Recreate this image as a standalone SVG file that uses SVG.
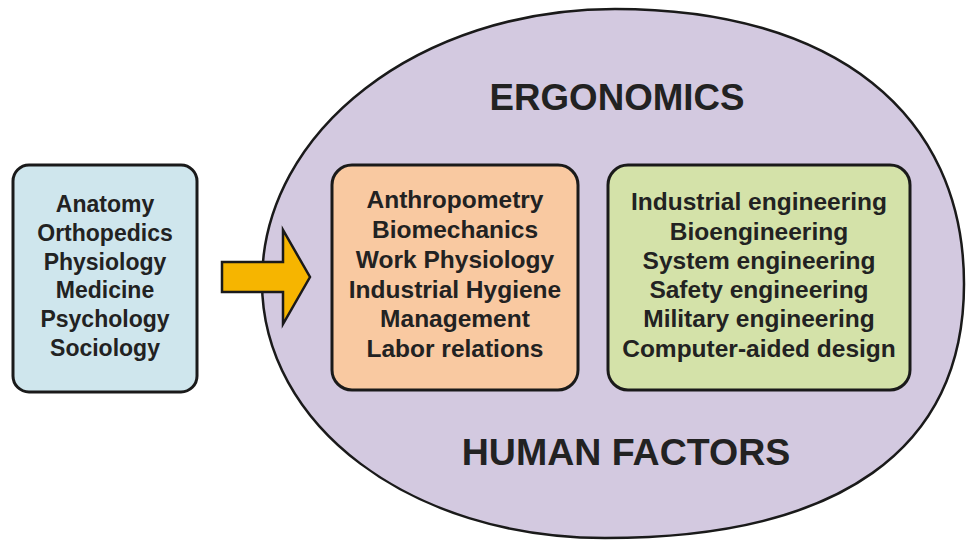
<svg xmlns="http://www.w3.org/2000/svg" width="966" height="541" viewBox="0 0 966 541">
<style>
.box{stroke:#1a1a1a;stroke-width:3}
.t{font-family:"Liberation Sans",Arial,sans-serif;font-weight:bold;fill:#222;text-anchor:middle}
.s{font-size:23px}
.m{font-size:24.5px}
.h{font-size:36.7px}
.h2{font-size:37.5px}
</style>
<rect width="966" height="541" fill="#ffffff"/>
<g id="hf-ellipse">
<path d="M615,9 C835,9 964,114 964,284 C964,449 840,538 605,538 C410,538 262,425 262,282 C262,130 420,9 615,9 Z" fill="#d3c9e0" stroke="#1a1a1a" stroke-width="2.5"/>
<text class="t h" x="617" y="110">ERGONOMICS</text>
<text class="t h2" x="626" y="465">HUMAN FACTORS</text>
</g>
<g id="sciences">
<rect class="box" x="13" y="165" width="184" height="227" rx="16" fill="#cfe6ed"/>
<text class="t s" x="105" y="212">Anatomy</text>
<text class="t s" x="105" y="241">Orthopedics</text>
<text class="t s" x="105" y="270">Physiology</text>
<text class="t s" x="105" y="298">Medicine</text>
<text class="t s" x="105" y="327">Psychology</text>
<text class="t s" x="105" y="356">Sociology</text>
</g>
<g id="connectors">
<polygon points="222,262 283,262 283,230 310,277 283,324 283,292 222,292" fill="#f6b500" stroke="#1a1a1a" stroke-width="2.5" stroke-linejoin="miter"/>
</g>
<g id="human-sciences">
<rect class="box" x="332" y="165" width="246" height="225" rx="20" fill="#f9c9a1"/>
<text class="t m" x="455" y="208">Anthropometry</text>
<text class="t m" x="455" y="238">Biomechanics</text>
<text class="t m" x="455" y="268">Work Physiology</text>
<text class="t m" x="455" y="298">Industrial Hygiene</text>
<text class="t m" x="455" y="327">Management</text>
<text class="t m" x="455" y="357">Labor relations</text>
</g>
<g id="engineering">
<rect class="box" x="608" y="165" width="302" height="225" rx="20" fill="#d4e2a9"/>
<text class="t m" x="759" y="210">Industrial engineering</text>
<text class="t m" x="759" y="240">Bioengineering</text>
<text class="t m" x="759" y="269">System engineering</text>
<text class="t m" x="759" y="298">Safety engineering</text>
<text class="t m" x="759" y="327">Military engineering</text>
<text class="t m" x="759" y="357">Computer-aided design</text>
</g>
</svg>
